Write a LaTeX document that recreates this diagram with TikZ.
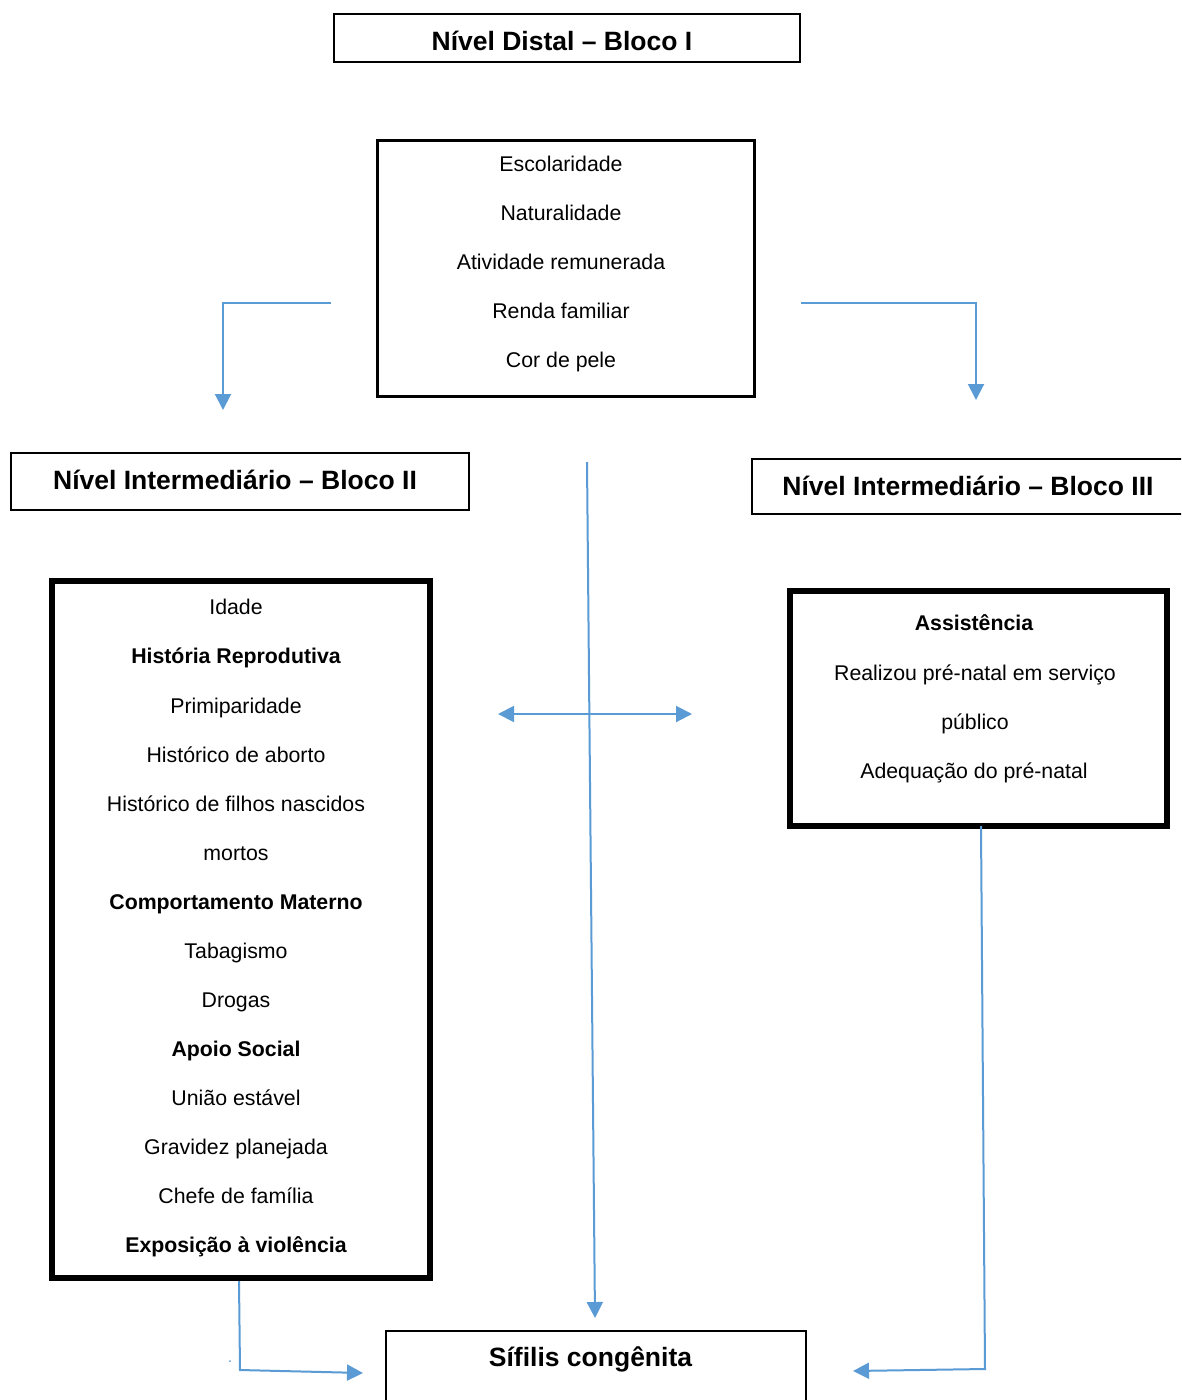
\documentclass[tikz,border=0pt]{standalone}
\usepackage{fontspec}
\setmainfont{Liberation Sans}
\usetikzlibrary{arrows.meta}
\definecolor{arrowblue}{RGB}{91,155,213}
\newcommand\nfont{\fontsize{21.3}{25}\selectfont}
\newcommand\hfont{\fontsize{26.5}{30}\selectfont\bfseries}
\tikzset{
  boxbase/.style={draw=black, inner sep=0pt, outer sep=0pt, anchor=north west, fill=none},
  thinbox/.style={boxbase, line width=2pt},
  medbox/.style={boxbase, line width=3pt},
  thickbox/.style={boxbase, line width=6pt},
  lbl/.style={anchor=base, inner sep=0pt, font=\nfont},
  blbl/.style={anchor=base, inner sep=0pt, font=\nfont\bfseries},
  hdr/.style={anchor=base, inner sep=0pt, font=\hfont},
  conn/.style={draw=arrowblue, line width=2pt, -{Triangle[length=16pt,width=16pt]}},
  conntwo/.style={draw=arrowblue, line width=2pt, {Triangle[length=16pt,width=16pt]}-{Triangle[length=16pt,width=16pt]}},
}
\begin{document}
\begin{tikzpicture}[x=1pt,y=-1pt]
\useasboundingbox (0,0) rectangle (1181,1400);
\clip (0,0) rectangle (1181,1400);
\fill[white] (0,0) rectangle (1181,1400);

% --- boxes ---
\node[thinbox, minimum width=466pt, minimum height=48pt] (hdistal) at (334,14) {};
\node[medbox, minimum width=377pt, minimum height=256pt] (bloco1) at (377,140) {};
\node[thinbox, minimum width=458pt, minimum height=57pt] (hbloco2) at (11,453) {};
\node[thinbox, minimum width=460pt, minimum height=55pt] (hbloco3) at (752,459) {};
\node[thickbox, minimum width=378pt, minimum height=697pt] (bloco2) at (52,581) {};
\node[thickbox, minimum width=377pt, minimum height=235pt] (bloco3) at (790,591) {};
\node[thinbox, minimum width=420pt, minimum height=120pt] (sifilis) at (386,1331) {};

% --- headings ---
\node[hdr] (tdistal) at (562,50) {Nível Distal – Bloco I};
\node[hdr] (tbloco2) at (235,489) {Nível Intermediário – Bloco II};
\node[hdr] (tbloco3) at (968,495) {Nível Intermediário – Bloco III};
\node[hdr] (tsif) at (590.5,1366) {Sífilis congênita};

% --- Bloco I list ---
\node[lbl] (i1) at (561,171) {Escolaridade};
\node[lbl] (i2) at (561,220) {Naturalidade};
\node[lbl] (i3) at (561,269) {Atividade remunerada};
\node[lbl] (i4) at (561,318) {Renda familiar};
\node[lbl] (i5) at (561,367) {Cor de pele};

% --- Bloco II list ---
\node[lbl]  (ii1)  at (236,614) {Idade};
\node[blbl] (ii2)  at (236,663) {História Reprodutiva};
\node[lbl]  (ii3)  at (236,713) {Primiparidade};
\node[lbl]  (ii4)  at (236,762) {Histórico de aborto};
\node[lbl]  (ii5)  at (236,811) {Histórico de filhos nascidos};
\node[lbl]  (ii6)  at (236,860) {mortos};
\node[blbl] (ii7)  at (236,909) {Comportamento Materno};
\node[lbl]  (ii8)  at (236,958) {Tabagismo};
\node[lbl]  (ii9)  at (236,1007) {Drogas};
\node[blbl] (ii10) at (236,1056) {Apoio Social};
\node[lbl]  (ii11) at (236,1105) {União estável};
\node[lbl]  (ii12) at (236,1154) {Gravidez planejada};
\node[lbl]  (ii13) at (236,1203) {Chefe de família};
\node[blbl] (ii14) at (236,1252) {Exposição à violência};

% --- Bloco III list ---
\node[blbl] (iii1) at (974,630) {Assistência};
\node[lbl]  (iii2) at (975,680) {Realizou pré-natal em serviço};
\node[lbl]  (iii3) at (975,729) {público};
\node[lbl]  (iii4) at (974,778) {Adequação do pré-natal};

% --- connector end points ---
\coordinate (la) at (331,303);
\coordinate (lb) at (223,410);
\coordinate (ra) at (801,303);
\coordinate (rb) at (976,400);
\coordinate (ca) at (587,462);
\coordinate (cb) at (595,1318);
\coordinate (da) at (498,714);
\coordinate (db) at (692,714);
\coordinate (bla) at (239,1281);
\coordinate (blm) at (240,1370);
\coordinate (blb) at (363,1373);
\coordinate (bra) at (981,826);
\coordinate (brm) at (985,1369);
\coordinate (brb) at (853,1371);

% --- connectors ---
\draw[conn] (la) -| (lb);
\draw[conn] (ra) -| (rb);
\draw[conn] (ca) -- (cb);
\draw[conntwo] (da) -- (db);
\draw[conn] (bla) -- (blm) -- (blb);
\draw[conn] (bra) -- (brm) -- (brb);
\fill[arrowblue] (230,1361) circle (1);
\end{tikzpicture}
\end{document}
